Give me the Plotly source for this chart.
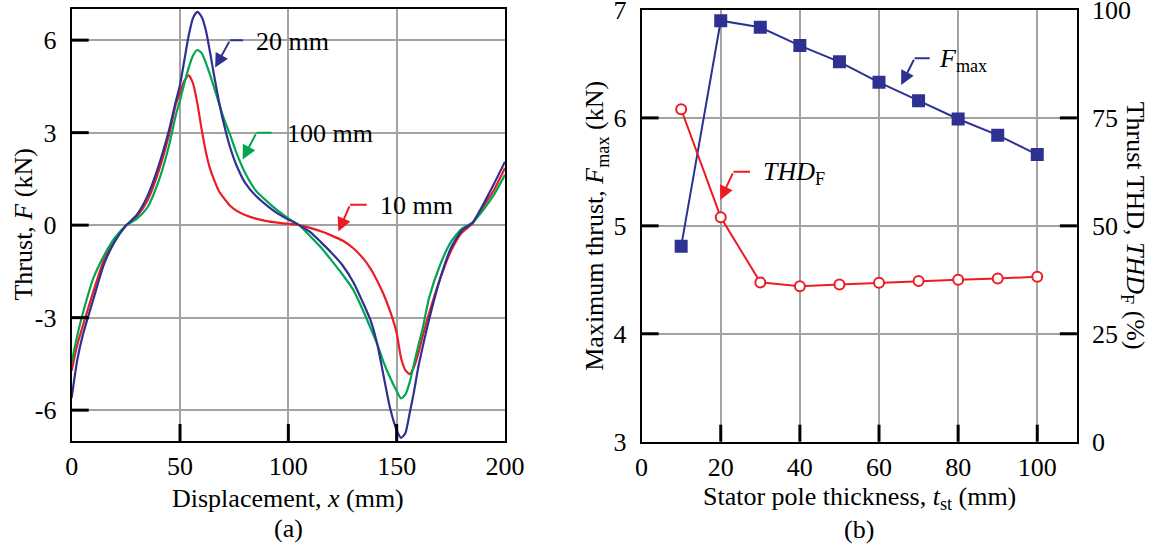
import plotly.graph_objects as go

# ---------------- (a) thrust waveforms versus displacement ----------------
x_disp = [0, 2.5, 5, 10, 15, 20, 25, 30, 35, 40, 45, 48, 50, 52, 54, 56, 58, 60,
          62, 64, 66, 68, 70, 73, 76, 80, 85, 90, 95, 100, 105, 110, 115, 120,
          125, 130, 135, 138, 141, 144, 147, 150, 152, 154, 156, 158, 160, 162,
          165, 170, 175, 180, 185, 190, 195, 200]

thrust_20mm = [-5.6, -4.4, -3.6, -2.4, -1.25, -0.52, -0.02, 0.33, 0.95, 1.9, 3.1,
               4.0, 4.55, 5.35, 6.15, 6.72, 6.92, 6.75, 6.3, 5.55, 4.75, 4.0, 3.35,
               2.55, 1.95, 1.38, 0.95, 0.64, 0.38, 0.18, 0.0, -0.22, -0.55, -0.9,
               -1.3, -1.85, -2.6, -3.1, -3.85, -4.9, -5.95, -6.65, -6.9, -6.75,
               -6.1, -5.4, -4.6, -3.95, -3.05, -1.75, -0.75, -0.18, 0.08, 0.68,
               1.35, 2.06]

thrust_100mm = [-4.45, -3.6, -2.9, -1.72, -0.98, -0.4, -0.02, 0.2, 0.58, 1.4, 2.6,
                3.55, 4.05, 4.6, 5.1, 5.5, 5.68, 5.58, 5.25, 4.85, 4.4, 3.95, 3.5,
                2.95, 2.35, 1.7, 1.12, 0.78, 0.48, 0.22, 0.0, -0.35, -0.72, -1.15,
                -1.6, -2.1, -2.85, -3.35, -3.85, -4.45, -4.95, -5.38, -5.62, -5.5,
                -5.1, -4.5, -3.9, -3.35, -2.35, -1.3, -0.55, -0.12, 0.08, 0.5,
                1.0, 1.63]

thrust_10mm = [-4.72, -3.9, -3.3, -2.15, -1.1, -0.46, -0.02, 0.28, 0.8, 1.72, 2.95,
               3.9, 4.3, 4.68, 4.86, 4.6, 3.95, 3.1, 2.35, 1.8, 1.42, 1.1, 0.9,
               0.64, 0.47, 0.33, 0.21, 0.13, 0.08, 0.04, 0.0, -0.09, -0.2, -0.34,
               -0.5, -0.75, -1.12, -1.42, -1.8, -2.25, -2.8, -3.5, -4.3, -4.7,
               -4.83, -4.6, -4.15, -3.6, -2.85, -1.75, -0.85, -0.25, 0.05, 0.6,
               1.15, 1.85]

# ---------------- (b) maximum thrust and THD versus pole thickness ----------------
t_st = [10, 20, 30, 40, 50, 60, 70, 80, 90, 100]
f_max = [4.81, 6.90, 6.84, 6.67, 6.52, 6.33, 6.16, 5.99, 5.84, 5.66]
thd_f = [77.0, 52.0, 36.9, 36.0, 36.4, 36.8, 37.2, 37.5, 37.8, 38.2]

# tick labels
ya_vals = [-6, -3, 0, 3, 6]
ya_text = ["-6", "-3", "0", "3", "6"]
xa_vals = [0, 50, 100, 150, 200]
xb_vals = [0, 20, 40, 60, 80, 100]
yb_vals = [3, 4, 5, 6, 7]
yc_vals = [0, 25, 50, 75, 100]

BLUE = "#2E3192"
GREEN = "#00A651"
RED = "#ED1C24"
GRID = "#a3a3a3"
FONT = "Liberation Serif"
FS = 26
W, H = 1149, 548
TICK_PX = 17

XA_DOM, YA_DOM = [0.0624, 0.4395], [0.1953, 0.983]
XB_DOM, YB_DOM = [0.5584, 0.9372], [0.194, 0.9818]
XA_RNG, YA_RNG = [0, 200], [-7, 7]
XB_RNG, YB_RNG, YC_RNG = [0, 110], [3, 7], [0, 100]


def to_paper(v, rng, dom):
    """Map an axis value onto paper coordinates through the axis range and domain."""
    return dom[0] + (v - rng[0]) / (rng[1] - rng[0]) * (dom[1] - dom[0])


fig = go.Figure()

for ys, col in [(thrust_10mm, RED), (thrust_100mm, GREEN), (thrust_20mm, BLUE)]:
    fig.add_trace(go.Scatter(x=x_disp, y=ys, mode="lines", xaxis="x", yaxis="y",
                             line=dict(color=col, width=2.2, shape="spline", smoothing=0.6),
                             showlegend=False, hoverinfo="skip"))

fig.add_trace(go.Scatter(x=t_st, y=f_max, mode="lines+markers", xaxis="x2", yaxis="y2",
                         line=dict(color=BLUE, width=2),
                         marker=dict(symbol="square", size=13, color=BLUE),
                         showlegend=False))
fig.add_trace(go.Scatter(x=t_st, y=thd_f, mode="lines+markers", xaxis="x2", yaxis="y3",
                         line=dict(color=RED, width=2),
                         marker=dict(symbol="circle", size=10, color="white",
                                     line=dict(color=RED, width=2)),
                         showlegend=False))

axis_common = dict(showline=True, linecolor="black", linewidth=2, ticks="",
                   zeroline=False, gridcolor=GRID, gridwidth=1.5, automargin=False,
                   ticklabeloverflow="allow",
                   tickfont=dict(family=FONT, size=FS, color="black"))

fig.update_layout(
    template="none",
    width=W, height=H,
    margin=dict(l=0, r=0, t=0, b=0, pad=0),
    paper_bgcolor="white", plot_bgcolor="white",
    font=dict(family=FONT, size=FS, color="black"),
    xaxis=dict(domain=XA_DOM, range=XA_RNG, anchor="y", tickvals=xa_vals,
               mirror=True, showgrid=True, ticklabelstandoff=1, **axis_common),
    yaxis=dict(domain=YA_DOM, range=YA_RNG, anchor="x", tickvals=ya_vals,
               ticktext=ya_text, mirror=True, showgrid=True, ticklabelstandoff=8,
               **axis_common),
    xaxis2=dict(domain=XB_DOM, range=XB_RNG, anchor="y2", tickvals=xb_vals,
                mirror=True, showgrid=True, ticklabelstandoff=1, **axis_common),
    yaxis2=dict(domain=YB_DOM, range=YB_RNG, anchor="x2", tickvals=yb_vals,
                showgrid=True, ticklabelstandoff=8, **axis_common),
    yaxis3=dict(range=YC_RNG, anchor="x2", overlaying="y2", side="right",
                tickvals=yc_vals, showgrid=False, ticklabelstandoff=8, **axis_common),
)

# inward tick marks, drawn on the paper so they sit above the grid
tick_line = dict(color="#000000", width=3)
dx, dy = TICK_PX / W, TICK_PX / H
tick_shapes = []
for v in ya_vals:
    p = to_paper(v, YA_RNG, YA_DOM)
    tick_shapes.append((XA_DOM[0], XA_DOM[0] + dx, p, p))
for v in xa_vals[1:-1]:
    p = to_paper(v, XA_RNG, XA_DOM)
    tick_shapes.append((p, p, YA_DOM[0], YA_DOM[0] + dy))
for v in yb_vals[1:-1]:
    p = to_paper(v, YB_RNG, YB_DOM)
    tick_shapes.append((XB_DOM[0], XB_DOM[0] + dx, p, p))
for v in yc_vals[1:-1]:
    p = to_paper(v, YC_RNG, YB_DOM)
    tick_shapes.append((XB_DOM[1] - dx, XB_DOM[1], p, p))
for v in xb_vals[1:]:
    p = to_paper(v, XB_RNG, XB_DOM)
    tick_shapes.append((p, p, YB_DOM[0], YB_DOM[0] + dy))
for x0, x1, y0, y1 in tick_shapes:
    fig.add_shape(type="line", xref="paper", yref="paper", x0=x0, x1=x1, y0=y0, y1=y1,
                  line=tick_line, layer="above")

# callout leaders: short horizontal stroke plus an arrow
callouts = [
    # (xref, yref, x0, x1, y_h, tip_x, tip_y, colour)
    ("x", "y", 73.1, 79.1, 6.0, 66.2, 5.11, BLUE),
    ("x", "y", 85.3, 92.2, 3.0, 78.9, 2.13, GREEN),
    ("x", "y", 128.5, 136.2, 0.66, 123.1, -0.21, RED),
    ("x2", "y2", 69.0, 72.8, 6.552, 65.6, 6.305, BLUE),
    ("x2", "y3", 23.2, 27.4, 62.5, 19.9, 56.0, RED),
]
for xr, yr, x0, x1, yh, tx, ty, col in callouts:
    fig.add_shape(type="line", xref=xr, yref=yr, x0=x0, x1=x1, y0=yh, y1=yh,
                  line=dict(color=col, width=2))
    fig.add_annotation(xref=xr, yref=yr, axref=xr, ayref=yr, x=tx, y=ty, ax=x0, ay=yh,
                       text="", showarrow=True, arrowhead=2, arrowsize=1.4,
                       arrowwidth=2, arrowcolor=col)

labels = [
    ("x", "y", 84.2, 5.95, "20 mm"),
    ("x", "y", 98.5, 2.96, "100 mm"),
    ("x", "y", 141.6, 0.64, "10 mm"),
    ("x2", "y2", 74.7, 6.537, "<i>F</i><sub>max</sub>"),
    ("x2", "y3", 30.2, 62.2, "<i>THD</i><sub>F</sub>"),
]
for xr, yr, x, y, txt in labels:
    fig.add_annotation(xref=xr, yref=yr, x=x, y=y, text=txt, showarrow=False,
                       xanchor="left", yanchor="middle",
                       font=dict(family=FONT, size=FS, color="black"))

titles = [
    (0.2509, 0.0912, 0, "Displacement, <i>x</i> (mm)"),
    (0.2509, 0.0356, 0, "(a)"),
    (0.7478, 0.0912, 0, "Stator pole thickness, <i>t</i><sub>st</sub> (mm)"),
    (0.7478, 0.0330, 0, "(b)"),
    (0.0196, 0.5894, -90, "Thrust, <i>F</i> (kN)"),
    (0.5187, 0.5880, -90, "Maximum thrust, <i>F</i><sub>max</sub> (kN)"),
    (0.9870, 0.5880, 90, "Thrust THD, <i>THD</i><sub>F</sub> (%)"),
]
for x, y, ang, txt in titles:
    fig.add_annotation(xref="paper", yref="paper", x=x, y=y, text=txt, showarrow=False,
                       textangle=ang, xanchor="center", yanchor="middle",
                       font=dict(family=FONT, size=FS, color="black"))

fig.write_html("out.html")
